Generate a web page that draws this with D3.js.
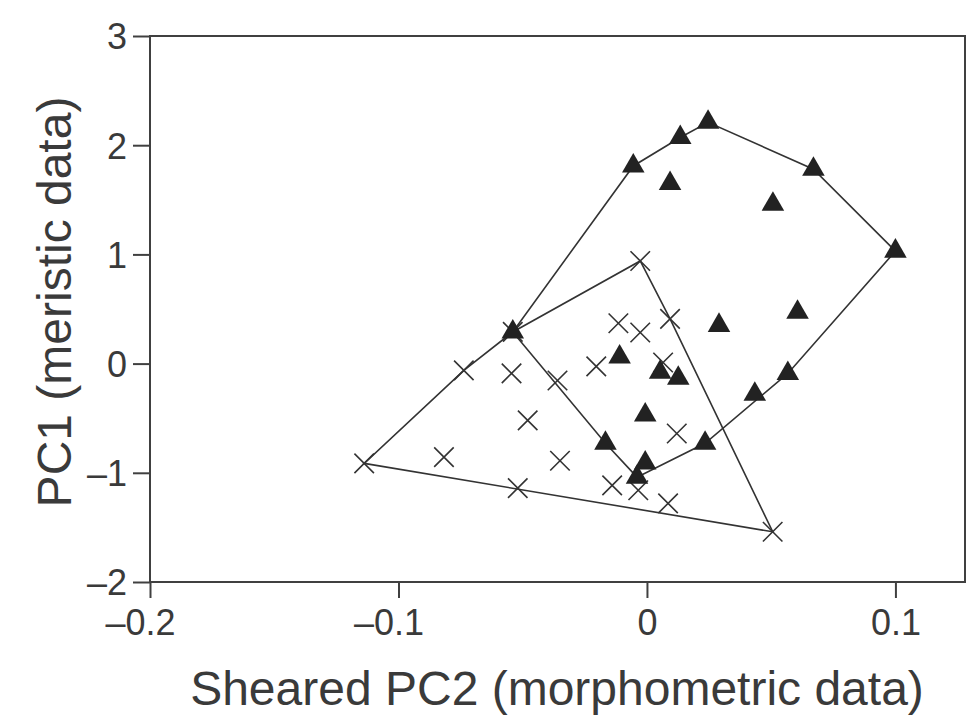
<!DOCTYPE html>
<html>
<head>
<meta charset="utf-8">
<script src="https://cdn.jsdelivr.net/npm/d3@7"></script>
<style>
  body { margin: 0; background: #fff; }
  text { font-family: "Liberation Sans", Arial, sans-serif; fill: #3a3a3a; }
</style>
</head>
<body>
<script>
// group A (filled triangles): sheared PC2, PC1
const triX = [-0.0055, 0.0134, 0.0246, 0.067, 0.1, 0.0093, 0.0507, -0.054, -0.011, 0.0053,
              0.0126, 0.029, 0.0606, 0.0567, 0.0434, 0.0234, -0.0007, -0.0167, -0.0007, -0.004];
const triY = [1.81, 2.07, 2.21, 1.78, 1.03, 1.65, 1.46, 0.29, 0.06, -0.08,
              -0.135, 0.35, 0.47, -0.09, -0.28, -0.73, -0.47, -0.73, -0.91, -1.04];

// group B (crosses)
const crossX = [-0.1138, -0.0817, -0.052, -0.0737, -0.0545, -0.048, -0.036, -0.035, -0.0204, -0.0115,
                -0.0027, 0.0093, -0.0027, 0.0065, 0.012, -0.014, -0.0035, 0.0085, 0.0506, -0.054];
const crossY = [-0.914, -0.857, -1.14, -0.062, -0.09, -0.52, -0.155, -0.89, -0.025, 0.37,
                0.285, 0.41, 0.94, 0.01, -0.64, -1.115, -1.16, -1.28, -1.54, 0.29];

const xTicks = [-0.2, -0.1, 0, 0.1];
const yTicks = [-2, -1, 0, 1, 2, 3];
const xTitle = 'Sheared PC2 (morphometric data)';
const yTitle = 'PC1 (meristic data)';

const W = 969, H = 725;
const margin = {top: 36, right: 4, bottom: 143, left: 150};

const svg = d3.select('body').append('svg')
  .attr('width', W)
  .attr('height', H);

const x = d3.scaleLinear().domain([-0.2, 0.128]).range([margin.left, W - margin.right]);
const y = d3.scaleLinear().domain([-2, 3]).range([H - margin.bottom, margin.top]);

const tri = triX.map((v, i) => [v, triY[i]]);
const crs = crossX.map((v, i) => [v, crossY[i]]);

// frame
const ink = '#404040';
svg.append('rect')
  .attr('x', x(-0.2)).attr('y', y(3))
  .attr('width', x(0.128) - x(-0.2)).attr('height', y(-2) - y(3))
  .attr('fill', 'none').attr('stroke', ink).attr('stroke-width', 2);

// axes
const fmt = d => (d < 0 ? '\u2013' : '') + Math.abs(d);
const yAxis = svg.append('g')
  .attr('transform', `translate(${x(-0.2)},0)`)
  .call(d3.axisLeft(y).tickValues(yTicks).tickSize(17).tickPadding(6).tickFormat(fmt));
const xAxis = svg.append('g')
  .attr('transform', `translate(0,${y(-2)})`)
  .call(d3.axisBottom(x).tickValues(xTicks).tickSize(16).tickPadding(6).tickFormat(fmt));

[xAxis, yAxis].forEach(g => {
  g.select('.domain').remove();
  g.selectAll('line').attr('stroke', ink).attr('stroke-width', 2);
  g.selectAll('text').style('font-size', '36px').attr('fill', '#3a3a3a');
});
yAxis.selectAll('text').attr('dy', '0.36em');
xAxis.selectAll('text').attr('dy', '0.85em')
  .attr('dx', d => d < 0 ? -10 : 0);

// titles
svg.append('text')
  .attr('x', 557).attr('y', 705)
  .attr('text-anchor', 'middle')
  .style('font-size', '48px')
  .text(xTitle);

svg.append('text')
  .attr('transform', `translate(71,${302}) rotate(-90)`)
  .attr('text-anchor', 'middle')
  .style('font-size', '48px')
  .text(yTitle);

// hulls
const line = d3.line().x(d => x(d[0])).y(d => y(d[1])).curve(d3.curveLinearClosed);
[tri, crs].forEach(pts => {
  svg.append('path')
    .attr('d', line(d3.polygonHull(pts)))
    .attr('fill', 'none')
    .attr('stroke', '#333')
    .attr('stroke-width', 1.6);
});

// crosses
svg.append('g').selectAll('path')
  .data(crs)
  .join('path')
  .attr('transform', d => `translate(${x(d[0])},${y(d[1])})`)
  .attr('d', d3.symbol(d3.symbolTimes, 250))
  .attr('fill', 'none')
  .attr('stroke', '#333')
  .attr('stroke-width', 1.6);

// triangles
svg.append('g').selectAll('path')
  .data(tri)
  .join('path')
  .attr('transform', d => `translate(${x(d[0])},${y(d[1])})`)
  .attr('d', d3.symbol(d3.symbolTriangle, 220))
  .attr('fill', '#222');
</script>
</body>
</html>
